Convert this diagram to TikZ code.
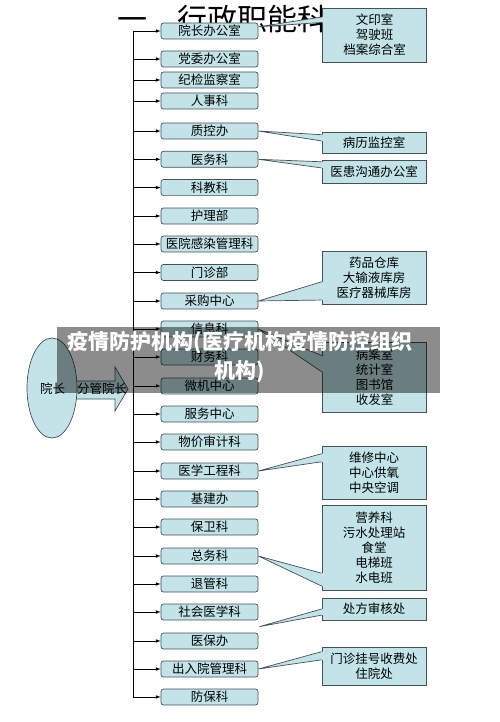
\documentclass[tikz,border=0pt]{standalone}
\usepackage{fontspec}
\setmainfont{Noto Sans CJK SC}
\usetikzlibrary{calc,shapes.geometric}

\definecolor{boxfill}{RGB}{194,228,232}
\definecolor{boxline}{RGB}{70,80,85}

\tikzset{
  dept/.style={draw=boxline, fill=boxfill, rounded corners=2.5pt, minimum width=97pt,
    minimum height=16pt, inner sep=0pt, font=\fontsize{12.5}{15}\selectfont},
  note/.style={draw=boxline, fill=boxfill, minimum width=104pt, inner sep=0pt,
    align=center, font=\fontsize{12.5}{15}\selectfont},
}

\begin{document}
\begin{tikzpicture}[x=1pt,y=-1pt,line width=0.7pt]
\useasboundingbox (0,0) rectangle (500,722);

% title
\node[anchor=west, font=\fontsize{30}{30}\selectfont] (title) at (114,19) {一\hspace{30pt}行政职能科};

% departments
\foreach \y/\t [count=\i] in {31/院长办公室, 59/党委办公室, 80/纪检监察室, 101/人事科,
  131/质控办, 159.3/医务科, 187.6/科教科, 216/护理部, 244/医院感染管理科, 272.5/门诊部,
  301/采购中心, 329/信息科, 357/财务科, 386/微机中心, 414/服务中心, 442/物价审计科,
  471/医学工程科, 499/基建办, 527/保卫科, 556/总务科, 584/退管科, 612/社会医学科,
  641/医保办, 669/出入院管理科, 697/防保科}
  \node[dept] (d\i) at (209.5,\y) {\t};

% trunk and branches
\coordinate (trunk) at (133,0);
\draw (trunk |- d1.west) -- (trunk |- d25.west);
\foreach \i in {1,...,25}
  \draw[-latex] (trunk |- d\i.west) -- (d\i.west);

% sub offices
\node[note, minimum height=54pt] (n1) at (374.5,35) {文印室\\驾驶班\\档案综合室};
\node[note, minimum height=21pt] (n2) at (374,142.5) {病历监控室};
\node[note, minimum height=23pt] (n3) at (374,171.5) {医患沟通办公室};
\node[note, minimum height=53pt] (n4) at (374,277.5) {药品仓库\\大输液库房\\医疗器械库房};
\node[note, minimum height=70pt] (n5) at (374.5,377) {病案室\\统计室\\图书馆\\收发室};
\node[note, minimum height=53pt] (n6) at (374,472.5) {维修中心\\中心供氧\\中央空调};
\node[note, minimum height=85pt] (n7) at (374,547.5) {营养科\\污水处理站\\食堂\\电梯班\\水电班};
\node[note, minimum height=22pt] (n8) at (374,609) {处方审核处};
\node[note, minimum height=38pt] (n9) at (374,666) {门诊挂号收费处\\住院处};

% pointers
\coordinate (p1) at ($(d1.east)!0.5!(d1.north east)$);
\coordinate (p8) at ($(d23.north east)+(1,-6)$);
\foreach \n/\t/\a/\b in {n1/p1/0.17/0.27, n2/d5.east/0.14/0.43, n3/d6.east/0.09/0.35,
  n4/d11.east/0.58/0.92, n5/d12.east/0.2/0.43, n6/d17.east/0.15/0.3,
  n7/d20.east/0.8/0.95, n8/p8/0.5/0.77, n9/d24.east/0.13/0.34} {
  \fill[boxfill] (\t) -- ($(\n.north west)!\a!(\n.south west)$) -- ++(1.5,0)
    -- ($(\n.north west)!\b!(\n.south west)+(1.5,0)$)
    -- ($(\n.north west)!\b!(\n.south west)$) -- cycle;
  \draw[boxline] ($(\n.north west)!\a!(\n.south west)$) -- (\t)
    -- ($(\n.north west)!\b!(\n.south west)$);
}

% leaders
\draw[boxline, fill=boxfill] (70,381) -- (115,381) -- (115,367) -- (128,389)
  -- (115,411) -- (115,399) -- (70,399) -- cycle;
\node[ellipse, draw=boxline, fill=boxfill, minimum width=50pt, minimum height=100pt] (head) at (52,388) {};
\node[font=\fontsize{12.5}{15}\selectfont] (lead) at (83.5,389) {院长\hspace{12pt}分管院长};

% watermark band
\fill[black, opacity=0.45] (57,327) rectangle (440,393);
\node[text=white, align=center, font=\fontsize{21}{29}\selectfont\bfseries] (mark) at (240,357.5)
  {疫情防护机构(医疗机构疫情防控组织\\机构)};

\end{tikzpicture}
\end{document}
